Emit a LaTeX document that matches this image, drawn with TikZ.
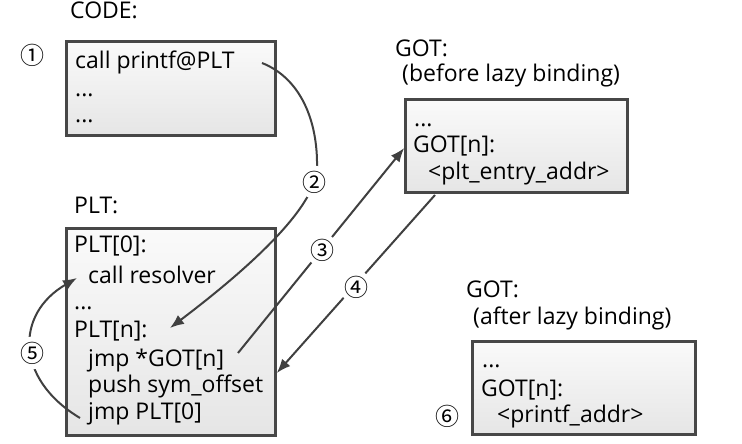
\documentclass[tikz,border=0pt]{standalone}
\usepackage{fontspec}
\setmainfont{Open Sans}
\newfontfamily\circfont{Noto Sans CJK SC}
\usetikzlibrary{positioning,arrows.meta}

\begin{document}
\begin{tikzpicture}[x=1pt,y=1pt,>={Latex[length=14pt,width=11pt]},
		mem/.style={rectangle,draw=black!72,line width=2.6pt,top color=black!2,bottom color=black!10,inner sep=0pt},
		txt/.style={anchor=base west,inner sep=0pt,font=\fontsize{23}{27}\selectfont},
		num/.style={circle,inner sep=0pt,fill=white,font=\circfont\fontsize{24}{24}\selectfont},
		link/.style={->,draw=black!75,line width=2pt}]
			\useasboundingbox (0,0) rectangle (742,444);
			% boxes
			\node[mem,minimum width=209,minimum height=94] (code) at (171,355.5) {};
			\node[mem,minimum width=209,minimum height=207] (plt) at (171,112) {};
			\node[mem,minimum width=222,minimum height=93] (gotb) at (516.5,298) {};
			\node[mem,minimum width=223,minimum height=93] (gota) at (584,56) {};

			% headers
			\node[txt] (codehd) at (70,425) {CODE:};
			\node[txt] (plthd) at (74,230) {PLT:};
			\node[txt] (gotbhd) at (395,387) {GOT:};
			\node[txt] (gotbsub) at (402,362) {(before lazy binding)};
			\node[txt] (gotahd) at (466,146) {GOT:};
			\node[txt] (gotasub) at (473,119) {(after lazy binding)};

			% code lines
			\node[txt] (c1) at (75,375) {call printf@PLT};
			\node[txt] (c2) at (75,347) {...};
			\node[txt] (c3) at (75,321) {...};

			% plt lines
			\node[txt] (p0) at (74,191) {PLT[0]:};
			\node[txt] (p1) at (88,160) {call resolver};
			\node[txt] (p2) at (74,134) {...};
			\node[txt] (p3) at (74,106) {PLT[n]:};
			\node[txt] (p4) at (88,77) {jmp *GOT[n]};
			\node[txt] (p5) at (88,51) {push sym\_offset};
			\node[txt] (p6) at (88,24) {jmp PLT[0]};

			% got lines
			\node[txt] (b1) at (414,317) {...};
			\node[txt] (b2) at (413,291) {GOT[n]:};
			\node[txt] (b3) at (428,264) {<plt\_entry\_addr>};
			\node[txt] (a1) at (482,76) {...};
			\node[txt] (a2) at (481,47) {GOT[n]:};
			\node[txt] (a3) at (497,21) {<printf\_addr>};

			% steps
			\coordinate (s2) at (262,381);
			\coordinate (e2) at (170,116);
			\coordinate (s3) at (238,91);
			\coordinate (e3) at (gotb.west |- 0,296);
			\coordinate (s4) at (435,249);
			\coordinate (e4) at (plt.east |- 0,71);
			\coordinate (s5) at (80,26);
			\coordinate (e5) at (77,166);

			\draw[link] (s2) .. controls (300,366) and (318,324) .. (317,276)
				.. controls (316,234) and (240,169) .. (e2);
			\draw[link] (s3) -- (e3);
			\draw[link] (s4) -- (e4);
			\draw[link] (s5) .. controls (15,65) and (15,130) .. (e5);

			\node[num] (n1) at (32,389) {①};
			\node[num] (n2) at (314,262) {②};
			\node[num] (n3) at (322,194) {③};
			\node[num] (n4) at (356,157) {④};
			\node[num] (n5) at (32,91) {⑤};
			\node[num] (n6) at (447,28) {⑥};
\end{tikzpicture}
\end{document}
